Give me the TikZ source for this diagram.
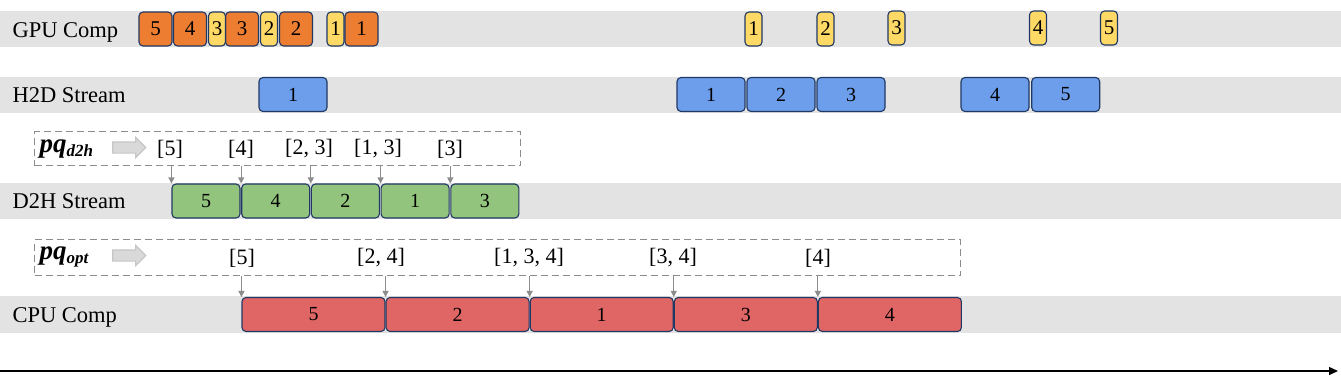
\documentclass[tikz,border=0pt]{standalone}
\usepackage{fontspec}
\setmainfont{Liberation Serif}
\usetikzlibrary{positioning,shapes.arrows,arrows.meta}

\definecolor{lanegray}{HTML}{E3E3E3}
\definecolor{gpuorange}{HTML}{ED7D31}
\definecolor{gpuyellow}{HTML}{FFD966}
\definecolor{h2dblue}{HTML}{6D9EEB}
\definecolor{d2hgreen}{HTML}{93C47D}
\definecolor{cpured}{HTML}{E06666}
\definecolor{boxline}{HTML}{203864}
\definecolor{qgray}{HTML}{8C8C8C}

\begin{document}
\begin{tikzpicture}[x=1pt, y=-1pt,
    every node/.style={font=\fontsize{22}{26}\selectfont},
    lane/.style={fill=lanegray},
    lanelabel/.style={anchor=base west, font=\fontsize{22.5}{26}\selectfont},
    task/.style={draw=boxline, line width=1.1pt, rounded corners=4pt, inner sep=0pt,
        minimum height=34pt, font=\fontsize{20}{24}\selectfont},
    gpubig/.style={task, fill=gpuorange, minimum width=33pt, font=\fontsize{21}{24}\selectfont},
    gpusmall/.style={task, fill=gpuyellow, minimum width=17pt, font=\fontsize{21}{24}\selectfont},
    h2dbox/.style={task, fill=h2dblue, minimum width=68pt},
    d2hbox/.style={task, fill=d2hgreen, minimum width=68pt},
    cpubox/.style={task, fill=cpured, minimum width=143pt},
    queue/.style={draw=qgray, line width=1.2pt, dash pattern=on 7pt off 4pt,
        inner sep=0pt, anchor=north west},
    qarrow/.style={-{Triangle[length=6pt,width=6pt]}, draw=qgray, line width=1.1pt},
    blockarrow/.style={single arrow, draw=gray!45, fill=gray!30, line width=1.2pt,
        minimum height=33pt, minimum width=19pt, single arrow head extend=4.5pt, inner sep=5pt}]
    \useasboundingbox (0,0) rectangle (1341,383);

    % Lanes
    \fill [lane] (0,11) rectangle (1341,47);
    \fill [lane] (0,77) rectangle (1341,113);
    \fill [lane] (0,183) rectangle (1341,219);
    \fill [lane] (0,296) rectangle (1341,333);
    \node [lanelabel] (gpulbl) at (9,37) {GPU Comp};
    \node [lanelabel] (h2dlbl) at (9,102.5) {H2D Stream};
    \node [lanelabel] (d2hlbl) at (9,208.5) {D2H Stream};
    \node [lanelabel] (cpulbl) at (9,322) {CPU Comp};

    % GPU Comp
    \foreach \n/\x/\t in {a/155.5/5, b/190/4, c/242/3, d/296/2, e/361.5/1}
        \node [gpubig] (go\n) at (\x,29) {\t};
    \foreach \n/\x/\y/\t in {a/217/29/3, b/269/29/2, c/335.5/29/1, d/753.5/29/1,
                             e/825.5/29/2, f/896.5/28/3, g/1038/28/4, h/1109/28/5}
        \node [gpusmall] (gy\n) at (\x,\y) {\t};

    % H2D Stream
    \node [h2dbox] (ha) at (293,94.5) {1};
    \node [h2dbox] (hb) at (711,94.5) {1};
    \node [h2dbox, right=0.9pt of hb] (hc) {2};
    \node [h2dbox, right=0.9pt of hc] (hd) {3};
    \node [h2dbox] (he) at (995,94.5) {4};
    \node [h2dbox, right=1.6pt of he] (hf) {5};

    % D2H Stream
    \node [d2hbox] (da) at (206,201) {5};
    \node [d2hbox, right=0.6pt of da] (db) {4};
    \node [d2hbox, right=0.6pt of db] (dc) {2};
    \node [d2hbox, right=0.6pt of dc] (dd) {1};
    \node [d2hbox, right=0.6pt of dd] (de) {3};

    \node [queue, minimum width=486pt, minimum height=34pt] (qd2h) at (34,131) {};
    \node [anchor=west] (pqd2h) at (36,149)
        {{\fontsize{27}{28}\selectfont\bfseries\itshape pq}{\fontsize{17}{18}\selectfont\bfseries\itshape\raisebox{-4pt}{d2h}}};
    \node [blockarrow] (ad2h) at (126.5,147.5) {};
    \foreach \n/\x/\t in {a/170/{[5]}, b/241/{[4]}, c/309/{[2, 3]}, d/378/{[1, 3]}, e/450/{[3]}}
        \node (qd\n) at (\x,149) {\t};
    \foreach \n in {a,b,c,d,e}
        \draw [qarrow] (qd2h.south -| d\n.north west) -- (d\n.north west);

    % CPU Comp
    \node [cpubox] (ca) at (313.5,314.5) {5};
    \node [cpubox, right=0pt of ca] (cb) {2};
    \node [cpubox, right=0pt of cb] (cc) {1};
    \node [cpubox, right=0pt of cc] (cd) {3};
    \node [cpubox, right=0pt of cd] (ce) {4};

    \node [queue, minimum width=926pt, minimum height=36pt] (qopt) at (34,239) {};
    \node [anchor=west] (pqopt) at (36,257)
        {{\fontsize{27}{28}\selectfont\bfseries\itshape pq}{\fontsize{17}{18}\selectfont\bfseries\itshape\raisebox{-4pt}{opt}}};
    \node [blockarrow] (aopt) at (126.5,255.5) {};
    \foreach \n/\x/\t in {a/242/{[5]}, b/381/{[2, 4]}, c/529/{[1, 3, 4]}, d/673/{[3, 4]}, e/818/{[4]}}
        \node (qc\n) at (\x,258) {\t};
    \foreach \n in {a,b,c,d,e}
        \draw [qarrow] (qopt.south -| c\n.north west) -- (c\n.north west);

    % Time
    \coordinate (tstart) at (0,371);
    \coordinate (tend) at (1338,371);
    \draw [-{Triangle[length=9pt,width=8pt]}, line width=1.4pt] (tstart) -- (tend);
\end{tikzpicture}
\end{document}
